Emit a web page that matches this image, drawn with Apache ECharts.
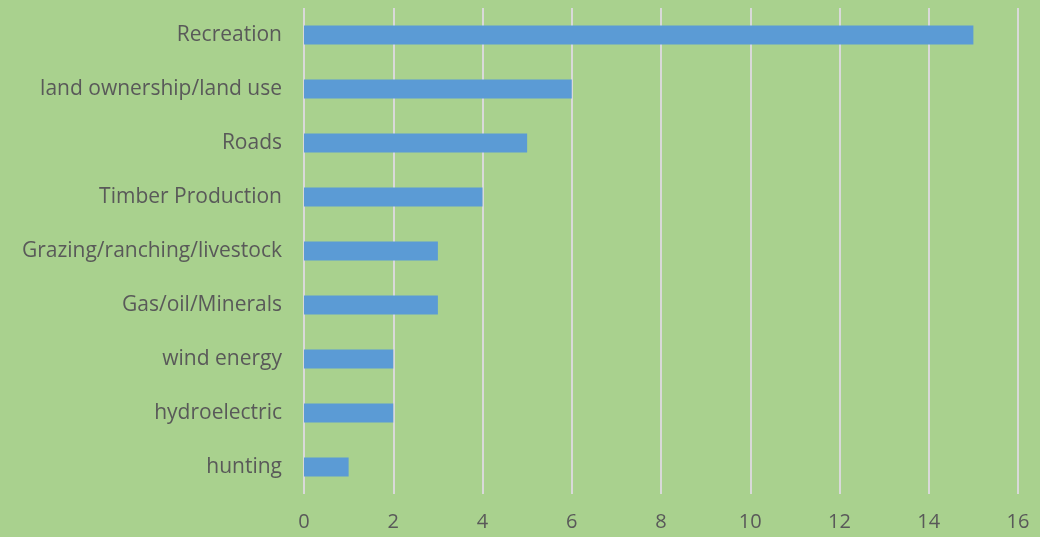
<!DOCTYPE html>
<html>
<head>
<meta charset="utf-8">
<script src="https://cdn.jsdelivr.net/npm/echarts@6/dist/echarts.min.js"></script>
<style>
  html, body { margin: 0; padding: 0; background: #A9D18E; }
  #chart { width: 1040px; height: 537px; }
</style>
</head>
<body>
<div id="chart"></div>
<script>
const categories = [
  'Recreation',
  'land ownership/land use',
  'Roads',
  'Timber Production',
  'Grazing/ranching/livestock',
  'Gas/oil/Minerals',
  'wind energy',
  'hydroelectric',
  'hunting'
];
const counts = [15, 6, 5, 4, 3, 3, 2, 2, 1];
const xTicks = [0, 2, 4, 6, 8, 10, 12, 14, 16];

const chart = echarts.init(document.getElementById('chart'));
const labelFont = '"Open Sans", sans-serif';

chart.setOption({
  backgroundColor: '#A9D18E',
  animation: false,
  grid: {
    left: 304,
    right: 22,
    top: 8,
    bottom: 43
  },
  xAxis: {
    type: 'value',
    min: xTicks[0],
    max: xTicks[xTicks.length - 1],
    interval: 2,
    axisLine: { show: false },
    axisTick: { show: false },
    axisLabel: {
      color: '#595959',
      fontSize: 20,
      fontFamily: labelFont,
      margin: 18
    },
    splitLine: {
      lineStyle: { color: '#D9D9D9', width: 2 }
    }
  },
  yAxis: {
    type: 'category',
    data: categories,
    inverse: true,
    axisLine: { show: false },
    axisTick: { show: false },
    axisLabel: {
      color: '#595959',
      fontSize: 21,
      fontFamily: labelFont,
      margin: 22
    }
  },
  series: [
    {
      type: 'bar',
      data: counts,
      barWidth: 19,
      itemStyle: { color: '#5B9BD5' }
    }
  ]
});
</script>
</body>
</html>
